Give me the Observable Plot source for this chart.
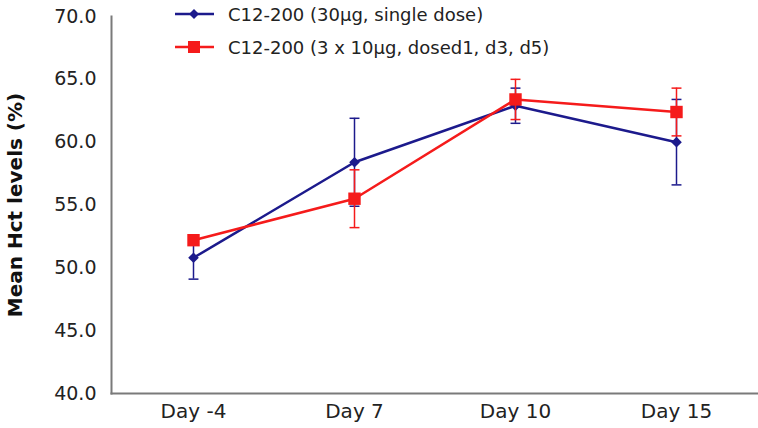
<!DOCTYPE html>
<html><head><meta charset="utf-8">
<script src="https://cdn.jsdelivr.net/npm/d3@7"></script>
<script src="https://cdn.jsdelivr.net/npm/@observablehq/plot@0.6"></script>
<style>
body{margin:0;background:#fff;}
#wrap{position:relative;width:758px;height:428px;font-family:"DejaVu Sans",sans-serif;}
#legend{position:absolute;left:175px;top:0;font-size:18px;color:#222;}
.row{position:absolute;left:0;white-space:nowrap;display:flex;align-items:center;height:20px;}
.row svg{display:block;margin-right:14px;}
</style></head>
<body><div id="wrap"><div id="legend"></div></div>
<script>
const days = ["Day -4", "Day 7", "Day 10", "Day 15"];
const singleMean = [50.8, 58.4, 62.9, 60.0];
const singleErr = [1.7, 3.5, 1.4, 3.4];
const multiMean = [52.2, 55.5, 63.4, 62.4];
const multiErr = [0.4, 2.3, 1.6, 1.9];
const seriesNames = ["C12-200 (30µg, single dose)", "C12-200 (3 x 10µg, dosed1, d3, d5)"];
const seriesColors = ["#1c1a8c", "#f51b1b"];
const yTicks = [40, 45, 50, 55, 60, 65, 70];
const yLabel = "Mean Hct levels (%)";

const single = days.map((d, i) => ({day: d, v: singleMean[i], lo: singleMean[i] - singleErr[i], hi: singleMean[i] + singleErr[i]}));
const multi = days.map((d, i) => ({day: d, v: multiMean[i], lo: multiMean[i] - multiErr[i], hi: multiMean[i] + multiErr[i]}));

const capSymbol = {draw(ctx, size) { const w = Math.sqrt(size) / 2; ctx.moveTo(-w, 0); ctx.lineTo(w, 0); }};

function errMarks(data, color) {
  return [
    Plot.ruleX(data, {x: "day", y1: "lo", y2: "hi", stroke: color, strokeWidth: 1.5}),
    Plot.dot(data, {x: "day", y: "lo", symbol: capSymbol, r: 5.6, stroke: color, fill: "none", strokeWidth: 1.5}),
    Plot.dot(data, {x: "day", y: "hi", symbol: capSymbol, r: 5.6, stroke: color, fill: "none", strokeWidth: 1.5})
  ];
}

const chart = Plot.plot({
  width: 758, height: 428,
  marginLeft: 111, marginRight: 1, marginTop: 16, marginBottom: 35,
  style: {fontFamily: "DejaVu Sans, sans-serif", background: "transparent"},
  x: {type: "point", domain: days, padding: 0.5},
  y: {domain: [40, 70]},
  marks: [
    Plot.axisY({ticks: yTicks, tickFormat: d3.format(".1f"), tickSize: 0, tickPadding: 15, fontSize: 19, color: "#222", label: null}),
    Plot.axisX({tickSize: 0, tickPadding: 10, fontSize: 20, color: "#222", label: null}),
    Plot.frame({anchor: "left", stroke: "#7a7a7a", strokeWidth: 2}),
    Plot.frame({anchor: "bottom", stroke: "#7a7a7a", strokeWidth: 2}),
    Plot.text([yLabel], {text: d => d, frameAnchor: "left", textAnchor: "middle", rotate: -90, dx: -96, fontSize: 20, fontWeight: "bold", fill: "#111"}),
    ...errMarks(single, seriesColors[0]),
    Plot.line(single, {x: "day", y: "v", stroke: seriesColors[0], strokeWidth: 2.5}),
    Plot.dot(single, {x: "day", y: "v", symbol: "diamond2", r: 4.8, fill: seriesColors[0], stroke: "none"}),
    ...errMarks(multi, seriesColors[1]),
    Plot.line(multi, {x: "day", y: "v", stroke: seriesColors[1], strokeWidth: 2.5}),
    Plot.dot(multi, {x: "day", y: "v", symbol: "square", r: 7, fill: seriesColors[1], stroke: "none"})
  ]
});
document.getElementById("wrap").appendChild(chart);

const legend = document.getElementById("legend");
const tops = [4, 37];
seriesNames.forEach((name, i) => {
  const row = document.createElement("div");
  row.className = "row";
  row.style.top = tops[i] + "px";
  const c = seriesColors[i];
  const mk = i === 0
    ? `<path d="M19 4 L24 9 L19 14 L14 9 Z" fill="${c}"/>`
    : `<rect x="13" y="3" width="12" height="12" fill="${c}"/>`;
  row.innerHTML = `<svg width="39" height="18"><line x1="0" y1="9" x2="39" y2="9" stroke="${c}" stroke-width="2.5"/>${mk}</svg><span>${name}</span>`;
  legend.appendChild(row);
});
</script></body></html>
